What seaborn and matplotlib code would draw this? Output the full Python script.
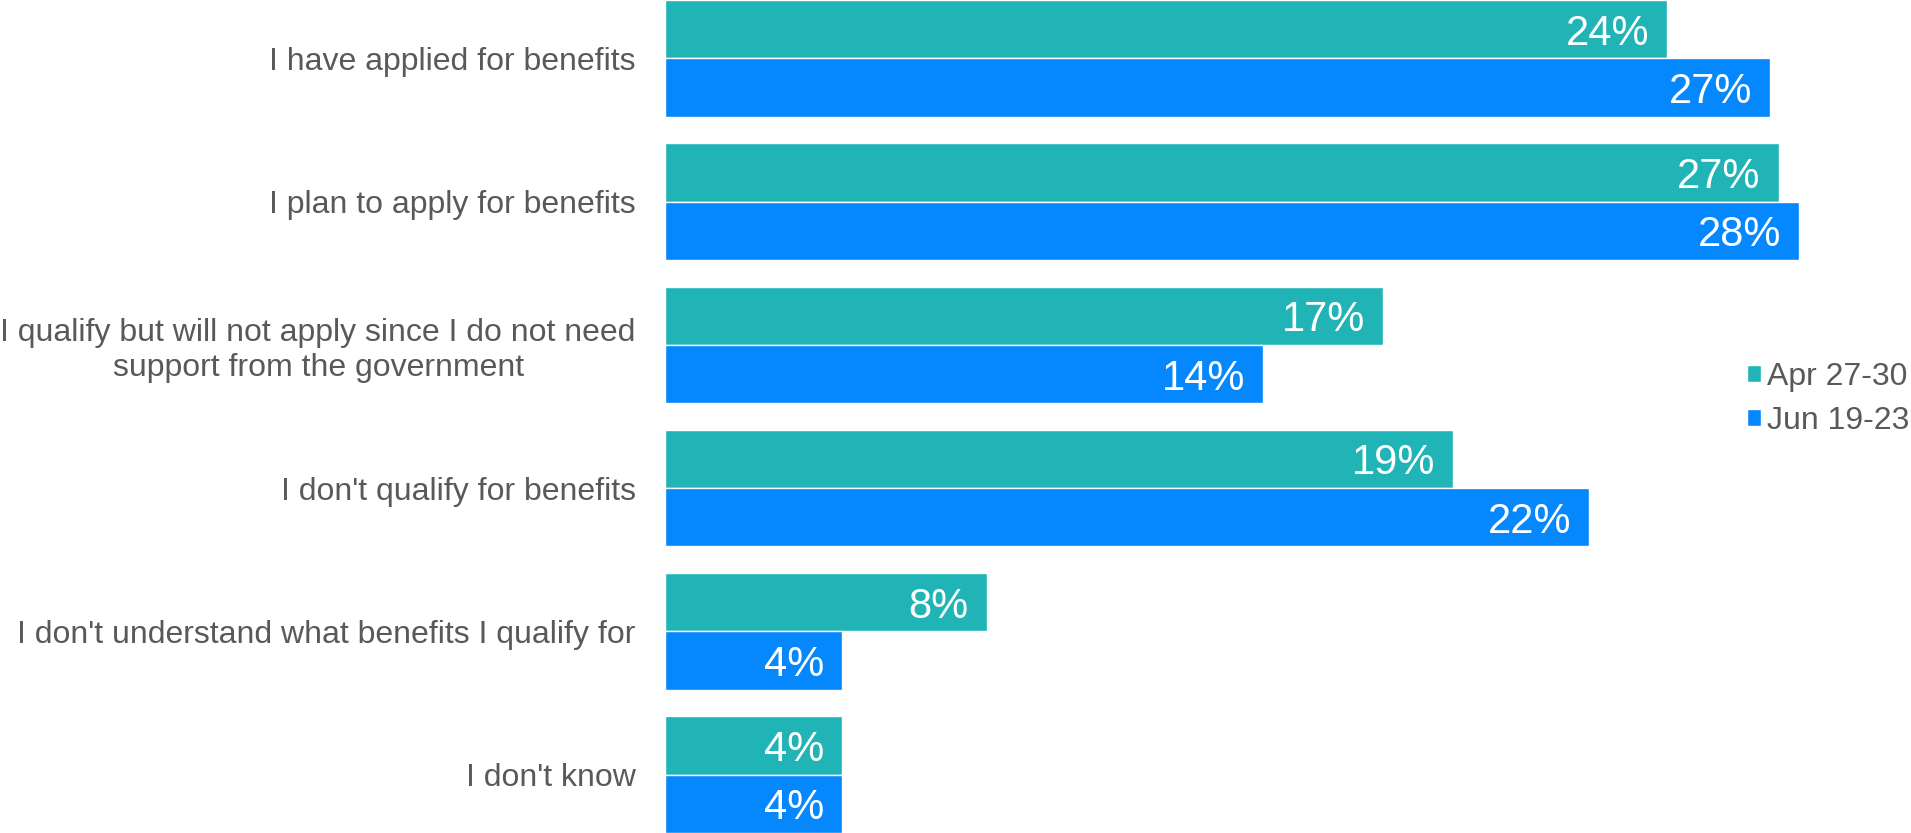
import matplotlib
matplotlib.use("Agg")
import matplotlib.pyplot as plt
import pandas as pd
import seaborn as sns

# survey answers, top to bottom
OPTIONS = [
    "I have applied for benefits",
    "I plan to apply for benefits",
    "I qualify but will not apply since I do not need\nsupport from the government",
    "I don't qualify for benefits",
    "I don't understand what benefits I qualify for",
    "I don't know",
]
PERIODS = ["Apr 27-30", "Jun 19-23"]

# bar lengths (% of respondents)
APR_VALUES = [24.3, 27.0, 17.4, 19.1, 7.8, 4.3]
JUN_VALUES = [26.8, 27.5, 14.5, 22.4, 4.3, 4.3]
# printed labels as shown on the chart
APR_LABELS = ["24%", "27%", "17%", "19%", "8%", "4%"]
JUN_LABELS = ["27%", "28%", "14%", "22%", "4%", "4%"]

COLORS = ["#20B4B6", "#0587FE"]
TEXT_GREY = "#595959"

sns.set_theme(style="white")
plt.rcParams["font.family"] = ["Liberation Sans", "DejaVu Sans"]

df = pd.DataFrame({
    "option": OPTIONS * 2,
    "pct": APR_VALUES + JUN_VALUES,
    "period": [PERIODS[0]] * len(OPTIONS) + [PERIODS[1]] * len(OPTIONS),
})

fig = plt.figure(figsize=(19.11, 8.33), dpi=100)
ax = fig.add_axes([665 / 1911, 0, 1 - 665 / 1911, 1])

sns.barplot(data=df, y="option", x="pct", hue="period", order=OPTIONS,
            hue_order=PERIODS, palette=COLORS, orient="h", width=0.814,
            saturation=1, ax=ax, legend=True)

for container, labels in zip(ax.containers, [APR_LABELS, JUN_LABELS]):
    texts = ax.bar_label(container, labels=labels, padding=-13, color="white",
                         fontsize=30)
    for t in texts:
        t.set_ha("right")
        t.set_va("center_baseline")

ax.set_xlim(0, (1911 - 665) / 41.25)
ax.set_ylim(len(OPTIONS) - 1 + 0.407, -0.407)
ax.set_xlabel("")
ax.set_ylabel("")
ax.set_xticks([])
ax.set_yticks(range(len(OPTIONS)))
ax.set_yticklabels(OPTIONS, multialignment="center")
ax.tick_params(axis="y", length=0, pad=21, labelsize=23, labelcolor=TEXT_GREY)
sns.despine(ax=ax, left=True, bottom=True)

handles, labels = ax.get_legend_handles_labels()
ax.legend(handles, labels, loc="center left",
          bbox_to_anchor=(1747 / 1911, 1 - 399 / 833),
          bbox_transform=fig.transFigure, frameon=False, fontsize=23,
          handlelength=0.44, handleheight=0.44, handletextpad=0.2,
          labelspacing=0.42, borderpad=0, borderaxespad=0,
          labelcolor=TEXT_GREY)

fig.savefig("out.png", dpi=100)
